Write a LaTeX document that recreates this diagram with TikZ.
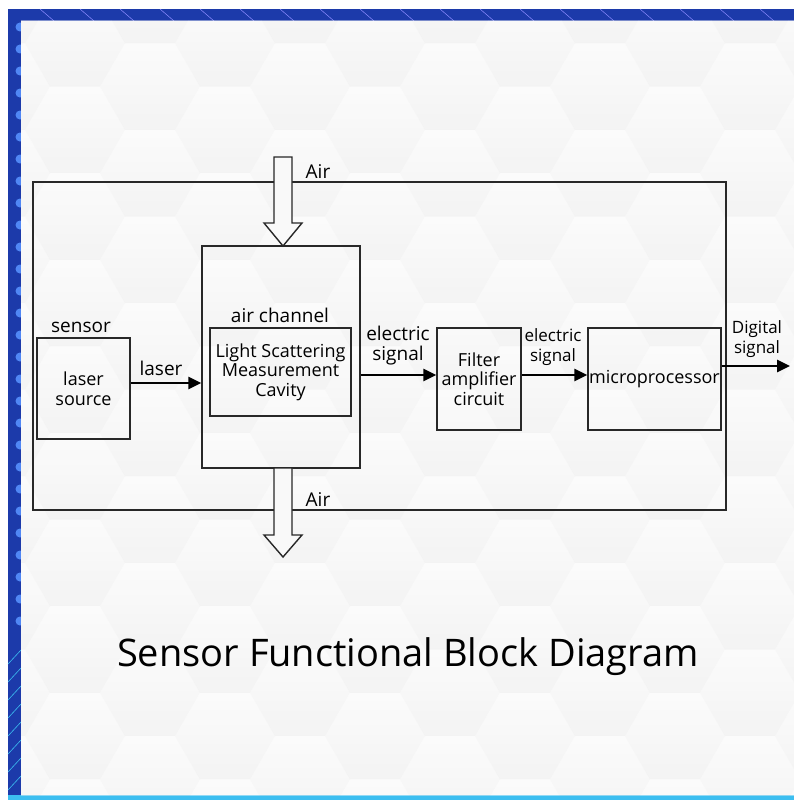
\documentclass[tikz,border=0pt]{standalone}
\usepackage{fontspec}
\setmainfont{Open Sans}
\usetikzlibrary{arrows.meta,positioning}

\definecolor{framebl}{RGB}{28,58,170}
\definecolor{dotbl}{RGB}{80,135,245}
\definecolor{linebl}{RGB}{60,190,240}
\definecolor{paper}{RGB}{249,249,249}
\definecolor{boxline}{RGB}{40,40,40}

\tikzset{
  block/.style={draw=boxline,line width=1.5pt,inner sep=2pt,align=center,
    font=\fontsize{18}{19.5}\selectfont},
  lbl/.style={align=center,inner sep=0pt,font=\fontsize{19}{20}\selectfont},
  sig/.style={line width=2.6pt,-{Triangle[length=13pt,width=12pt]}},
  airarrow/.style={draw=boxline,line width=1.4pt,fill=paper},
  hexa/.style={shading=axis,shading angle=60,top color=white,bottom color=black!7}
}

\begin{document}
\begin{tikzpicture}[x=1pt,y=-1pt]
  \useasboundingbox (0,0) rectangle (794,800);
  \fill[white] (0,0) rectangle (794,800);

  % frame
  \fill[framebl] (8,9) rectangle (794,21);
  \fill[framebl] (8,9) rectangle (21,800);
  \foreach \y in {27,49,...,640}
    {\fill[dotbl] (20,\y) circle (4.5pt);}
  \foreach \y in {650,668,...,790}
    {\draw[linebl,line width=0.6pt] (8,\y+14) -- (21,\y);}
  \foreach \x in {40,80,...,780}
    {\draw[blue!45,line width=0.5pt] (\x,9) -- (\x+14,21);}
  \fill[linebl] (8,795) rectangle (794,800);

  % paper with faint hexagons
  \fill[paper] (21,21) rectangle (794,795);
  \begin{scope}
    \clip (21,21) rectangle (794,795);
    \foreach \c in {0,...,11}
      \foreach \r in {0,...,10}
      {\pgfmathsetmacro{\hx}{\c*75}
       \pgfmathsetmacro{\hy}{\r*86.6+mod(\c,2)*43.3}
       \path[hexa,opacity=0.45] (\hx+50,\hy) -- (\hx+25,\hy+43.3) -- (\hx-25,\hy+43.3)
         -- (\hx-50,\hy) -- (\hx-25,\hy-43.3) -- (\hx+25,\hy-43.3) -- cycle;
      }
  \end{scope}

  % blocks
  \node[block,minimum width=693pt,minimum height=328pt] (sensor) at (379.5,346) {};
  \node[block,minimum width=158pt,minimum height=222pt] (channel) at (281,357) {};
  \node[block,minimum width=141pt,minimum height=88pt] (cavity) at (280.5,372)
    {\rule{0pt}{6pt}Light Scattering\\Measurement\\Cavity};
  \node[block,minimum width=93pt,minimum height=101pt] (laser) at (83.5,388.5)
    {laser\\source};
  \node[block,minimum width=84pt,minimum height=102pt] (filter) at (479,379)
    {Filter\\amplifier\\circuit};
  \node[block,minimum width=133pt,minimum height=102pt,inner sep=0pt] (micro) at (654.5,379)
    {microprocessor};
  \coordinate (out) at (790,366);

  % labels
  \node[lbl] (sensorlbl) at (81,327) {sensor};
  \node[lbl] (channellbl) at (280,315) {air channel};
  \node[lbl] (laserlbl) at (161,368) {laser};
  \node[lbl] (sig1lbl) at (398,346) {electric\\signal};
  \node[lbl,font=\fontsize{17}{20}\selectfont] (sig2lbl) at (553,347) {electric\\signal};
  \node[lbl,font=\fontsize{17}{20}\selectfont] (outlbl) at (757,339) {Digital\\signal};

  % air in / air out
  \foreach \top/\neck/\tip/\ly in {157/223/246/172,
                                   468/535/557/500}
  {\draw[airarrow] (274,\top) -- (292,\top) -- (292,\neck) -- (302,\neck)
      -- (283,\tip) -- (264,\neck) -- (274,\neck) -- cycle;
   \node[lbl] (air\top) at (318,\ly) {Air};
  }

  % signals
  \draw[sig] ([yshift=5.5pt]laser.east) -- ([yshift=5.5pt]laser.east -| channel.west);
  \draw[sig] ([yshift=4pt]filter.west -| channel.east) -- ([yshift=4pt]filter.west);
  \draw[sig] ([yshift=4pt]filter.east) -- ([yshift=4pt]micro.west);
  \draw[sig] (micro.east |- out) -- (out);

  \node[inner sep=0pt,font=\fontsize{38}{44}\selectfont] (title) at (408,657)
    {Sensor Functional Block Diagram};
\end{tikzpicture}
\end{document}
